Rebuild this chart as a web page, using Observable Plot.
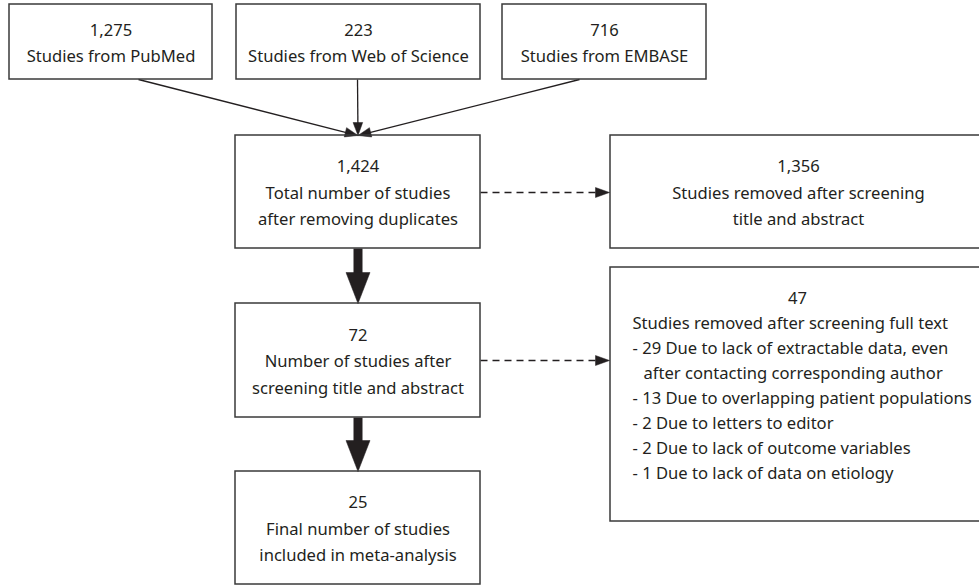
<!DOCTYPE html>
<html>
<head>
<meta charset="utf-8">
<script src="https://cdn.jsdelivr.net/npm/d3@7"></script>
<script src="https://cdn.jsdelivr.net/npm/@observablehq/plot@0.6"></script>
<style>
  html, body { margin: 0; padding: 0; background: #fff; overflow: hidden; }
  #chart svg { display: block; overflow: hidden; }
</style>
</head>
<body>
<div id="chart"></div>
<script>
// ---- Data (content of the flow diagram) ----
const sourceNames = ["PubMed", "Web of Science", "EMBASE"];
const sourceCounts = [1275, 223, 716];
const stageCounts = [1424, 72, 25];
const stageLabels = [
  ["Total number of studies", "after removing duplicates"],
  ["Number of studies after", "screening title and abstract"],
  ["Final number of studies", "included in meta-analysis"]
];
const removedCounts = [1356, 47];
const removedLabels = [
  ["Studies removed after screening", "title and abstract"],
  ["Studies removed after screening full text"]
];
const reasonCounts = [29, 13, 2, 2, 1];
const reasonLabels = [
  ["Due to lack of extractable data, even", "after contacting corresponding author"],
  ["Due to overlapping patient populations"],
  ["Due to letters to editor"],
  ["Due to lack of outcome variables"],
  ["Due to lack of data on etiology"]
];

// ---- Layout (positions of the boxes, in pixels) ----
const W = 979, H = 585;
const fmt = d3.format(",");
const srcBoxes = [[9, 212], [236, 480], [502, 706]].map(([x1, x2]) => ({x1, x2, y1: 4, y2: 79}));
const stageBoxes = [[135, 248], [303, 417], [471, 584]].map(([y1, y2]) => ({x1: 235, x2: 480, y1, y2}));
const removedBoxes = [[135, 248], [267, 521]].map(([y1, y2]) => ({x1: 610, x2: 986, y1, y2}));
const boxes = [...srcBoxes, ...stageBoxes, ...removedBoxes];

const lineH = 26.5;
const midTexts = [], startTexts = [];
const cx = b => (b.x1 + b.x2) / 2;
const cy = b => (b.y1 + b.y2) / 2;
function centered(b, lines) {
  const n = lines.length;
  lines.forEach((t, i) => midTexts.push({x: cx(b), y: cy(b) + (i - (n - 1) / 2) * lineH, text: t}));
}
sourceNames.forEach((s, i) => centered(srcBoxes[i], [fmt(sourceCounts[i]), "Studies from " + s]));
stageCounts.forEach((c, i) => centered(stageBoxes[i], [fmt(c), ...stageLabels[i]]));
centered(removedBoxes[0], [fmt(removedCounts[0]), ...removedLabels[0]]);
// second removed box: count centered, then left-aligned list
{
  const step = 24.9;
  let y = 297;
  midTexts.push({x: 797, y, text: fmt(removedCounts[1])});
  y += step;
  startTexts.push({x: 632, y, text: removedLabels[1][0]});
  reasonCounts.forEach((c, i) => {
    reasonLabels[i].forEach((t, j) => {
      y += step;
      if (j === 0) startTexts.push({x: 632, y, text: "- " + c + " " + t});
      else startTexts.push({x: 643, y, text: t});
    });
  });
}

// ---- Arrows ----
const target = {x: cx(stageBoxes[0]), y: stageBoxes[0].y1};
const thin = [
  {fx: 138, fy: srcBoxes[0].y2, tx: target.x, ty: target.y},
  {fx: cx(srcBoxes[1]) - 1, fy: srcBoxes[1].y2, tx: target.x, ty: target.y},
  {fx: 579, fy: srcBoxes[2].y2, tx: target.x, ty: target.y}
];
const dashed = [
  {fx: stageBoxes[0].x2, fy: 192, tx: removedBoxes[0].x1 - 1, ty: 192},
  {fx: stageBoxes[1].x2, fy: 360, tx: removedBoxes[1].x1 - 1, ty: 360}
];
const thick = [
  {fx: 357.5, fy: stageBoxes[0].y2, tx: 357.5, ty: stageBoxes[1].y1},
  {fx: 357.5, fy: stageBoxes[1].y2, tx: 357.5, ty: stageBoxes[2].y1}
];

function shaftAndHead(arrs, L, w, tag) {
  const shafts = [], heads = [];
  arrs.forEach((a, k) => {
    const dx = a.tx - a.fx, dy = a.ty - a.fy, len = Math.hypot(dx, dy);
    const ux = dx / len, uy = dy / len;
    const bx = a.tx - ux * L, by = a.ty - uy * L;
    const px = -uy * w, py = ux * w;
    shafts.push({x1: a.fx, y1: a.fy, x2: bx + ux * 1, y2: by + uy * 1});
    const id = tag + k;
    heads.push({x: a.tx, y: a.ty, id}, {x: bx + px, y: by + py, id}, {x: bx - px, y: by - py, id}, {x: a.tx, y: a.ty, id});
  });
  return {shafts, heads};
}
const thinA = shaftAndHead(thin, 13, 4.8, "t");
const dashA = shaftAndHead(dashed, 14, 5, "d");
const thickA = shaftAndHead(thick, 31, 12, "k");

const ink = "#231f20";
const fs = 16.6;
const chart = Plot.plot({
  width: W,
  height: H,
  margin: 0,
  x: {type: "identity", axis: null},
  y: {type: "identity", axis: null},
  style: {background: "#fff", fontFamily: "'Noto Sans', sans-serif"},
  marks: [
    Plot.link(thinA.shafts, {x1: "x1", y1: "y1", x2: "x2", y2: "y2", stroke: ink, strokeWidth: 1.3}),
    Plot.line(thinA.heads, {x: "x", y: "y", z: "id", fill: ink, stroke: ink, strokeWidth: 0.5}),
    Plot.link(dashA.shafts, {x1: "x1", y1: "y1", x2: "x2", y2: "y2", stroke: ink, strokeWidth: 1.3, strokeDasharray: "7,5"}),
    Plot.line(dashA.heads, {x: "x", y: "y", z: "id", fill: ink, stroke: ink, strokeWidth: 0.5}),
    Plot.link(thickA.shafts, {x1: "x1", y1: "y1", x2: "x2", y2: "y2", stroke: ink, strokeWidth: 9}),
    Plot.line(thickA.heads, {x: "x", y: "y", z: "id", fill: ink, stroke: ink, strokeWidth: 0.5}),
    Plot.rect(boxes, {x1: "x1", x2: "x2", y1: "y1", y2: "y2", fill: "none", stroke: "#3a3a3a", strokeWidth: 1.5}),
    Plot.text(midTexts, {x: "x", y: "y", text: "text", textAnchor: "middle", fontSize: fs, fill: ink, dy: 1.5}),
    Plot.text(startTexts, {x: "x", y: "y", text: "text", textAnchor: "start", fontSize: fs, fill: ink, dy: 1.5})
  ]
});
document.getElementById("chart").appendChild(chart);
</script>
</body>
</html>
